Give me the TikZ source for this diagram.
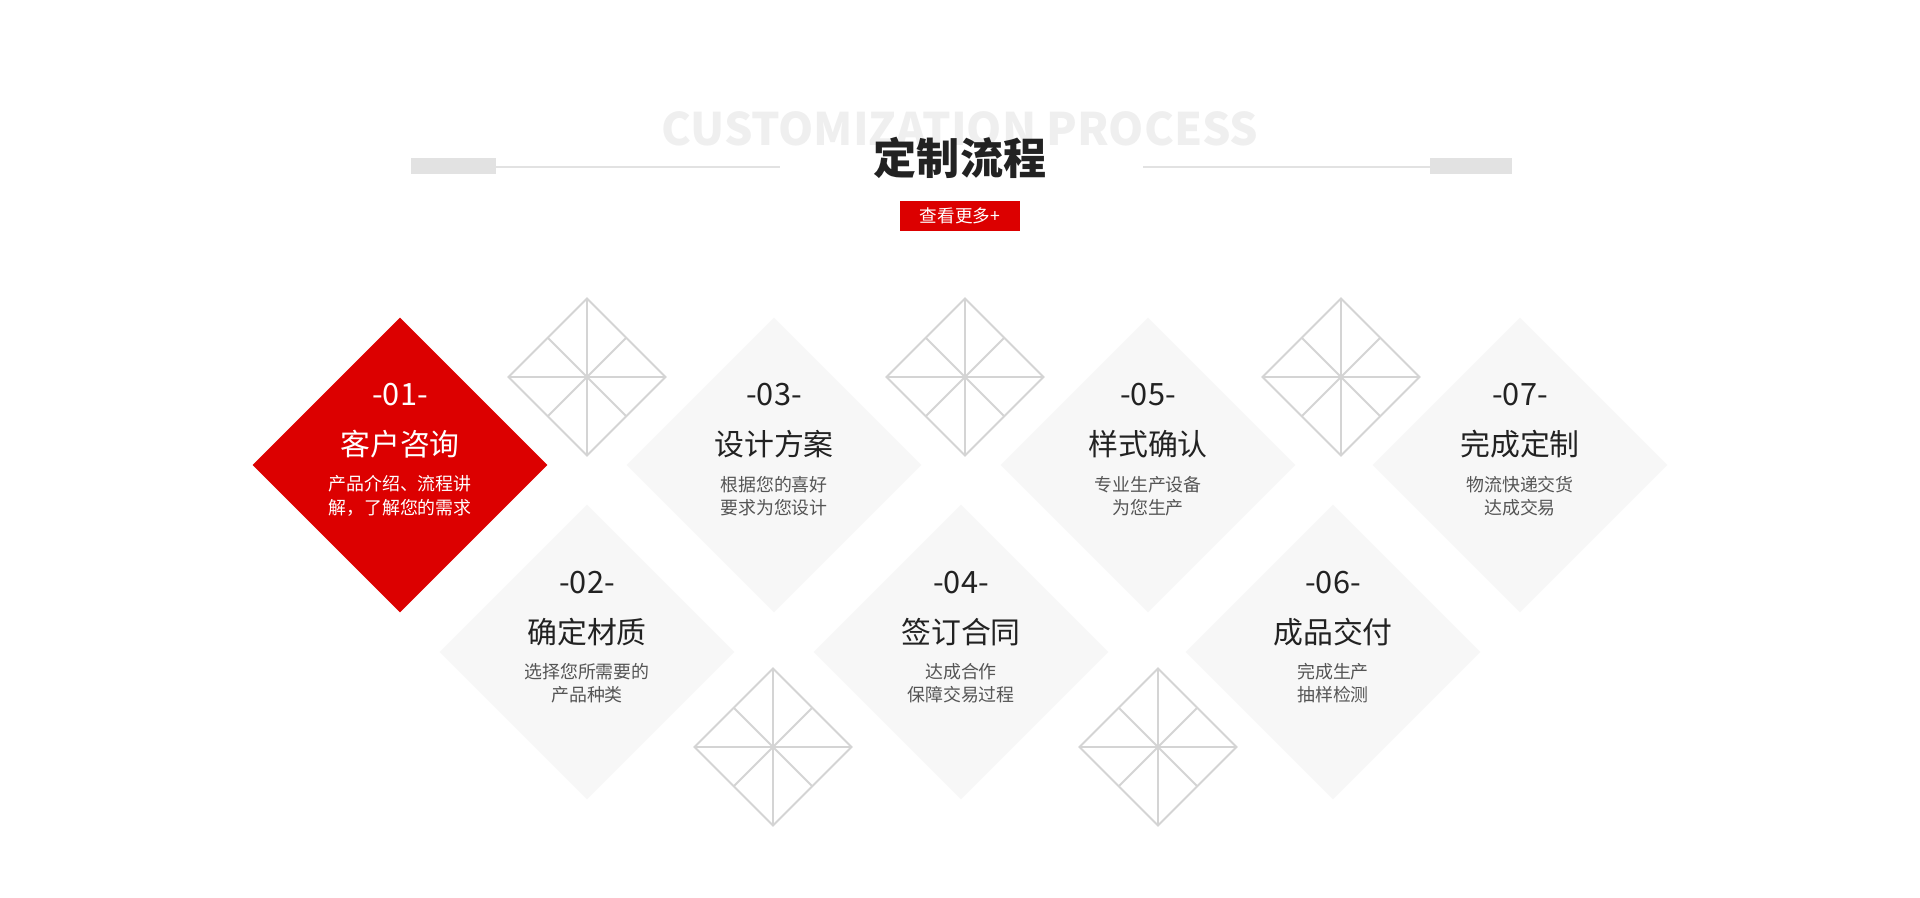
\documentclass[tikz,border=0pt]{standalone}
\usepackage{fontspec}
\setmainfont{Noto Sans CJK SC}
\usetikzlibrary{shapes.geometric}
\definecolor{rouge}{HTML}{DC0000}
\definecolor{noir}{HTML}{222222}
\definecolor{gris}{HTML}{555555}
\definecolor{grisclair}{HTML}{F7F7F7}
\definecolor{trait}{HTML}{D4D4D4}
\definecolor{barre}{HTML}{E2E2E2}
\definecolor{filigrane}{HTML}{EFEFEF}

\begin{document}
\begin{tikzpicture}[x=0.02cm,y=-0.02cm,
  carre/.style={diamond,fill=grisclair,inner sep=0pt,outer sep=0pt,minimum width=5.9cm,minimum height=5.9cm},
  motif/.style={diamond,draw=trait,line width=1.1pt,inner sep=0pt,outer sep=0pt,minimum width=3.14cm,minimum height=3.14cm},
  rayon/.style={draw=trait,line width=1.1pt},
  num/.style={font=\fontsize{17.5}{20}\selectfont,text=noir},
  tit/.style={font=\fontsize{17}{20}\selectfont,text=noir},
  sous/.style={font=\fontsize{10.2}{13.4}\selectfont,text=gris,align=center},
  blanc/.style={text=white}]
  \useasboundingbox (0,0) rectangle (1920,898);
  % En-tete
  \node[font=\bfseries\fontsize{25.5}{28}\selectfont,text=filigrane] (fil) at (960,129) {CUSTOMIZATION PROCESS};
  \fill[barre] (411,158) rectangle (496,174);
  \fill[barre] (1430,158) rectangle (1512,174);
  \draw[barre,line width=1.1pt] (496,167) -- (780,167);
  \draw[barre,line width=1.1pt] (1143,167) -- (1430,167);
  \node[font=\bfseries\fontsize{24.5}{26}\selectfont,text=noir] (titre) at (960,158) {定制流程};
  \node[fill=rouge,text=white,font=\fontsize{10}{11}\selectfont,minimum width=2.4cm,minimum height=0.62cm,inner sep=0pt] (plus) at (960,216) {查看更多+};
  % Losanges
  \node[carre,fill=rouge] (d1) at (400,465) {};
  \node[carre] (d3) at (774,465) {};
  \node[carre] (d5) at (1148,465) {};
  \node[carre] (d7) at (1520,465) {};
  \node[carre] (d2) at (587,652) {};
  \node[carre] (d4) at (961,652) {};
  \node[carre] (d6) at (1333,652) {};
  % Motifs
  \node[motif] (m1) at (587,377) {};
  \node[motif] (m2) at (965,377) {};
  \node[motif] (m3) at (1341,377) {};
  \node[motif] (m4) at (773,747) {};
  \node[motif] (m5) at (1158,747) {};
  \foreach \m in {m1,m2,m3,m4,m5}
    \draw[rayon] (\m.north) -- (\m.south) (\m.west) -- (\m.east)
      (\m.north west) -- (\m.south east) (\m.north east) -- (\m.south west);
  % Etape 01
  \node[num,blanc] (n1) at (400,395) {-01-};
  \node[tit,blanc] (t1) at (400,444) {客户咨询};
  \node[sous,blanc] (s1) at (400,496) {产品介绍、流程讲\\解，了解您的需求};
  % Etape 02
  \node[num] (n2) at (587,583) {-02-};
  \node[tit] (t2) at (587,632) {确定材质};
  \node[sous] (s2) at (587,683) {选择您所需要的\\产品种类};
  % Etape 03
  \node[num] (n3) at (774,395) {-03-};
  \node[tit] (t3) at (774,444) {设计方案};
  \node[sous] (s3) at (774,496) {根据您的喜好\\要求为您设计};
  % Etape 04
  \node[num] (n4) at (961,583) {-04-};
  \node[tit] (t4) at (961,632) {签订合同};
  \node[sous] (s4) at (961,683) {达成合作\\保障交易过程};
  % Etape 05
  \node[num] (n5) at (1148,395) {-05-};
  \node[tit] (t5) at (1148,444) {样式确认};
  \node[sous] (s5) at (1148,496) {专业生产设备\\为您生产};
  % Etape 06
  \node[num] (n6) at (1333,583) {-06-};
  \node[tit] (t6) at (1333,632) {成品交付};
  \node[sous] (s6) at (1333,683) {完成生产\\抽样检测};
  % Etape 07
  \node[num] (n7) at (1520,395) {-07-};
  \node[tit] (t7) at (1520,444) {完成定制};
  \node[sous] (s7) at (1520,496) {物流快递交货\\达成交易};
\end{tikzpicture}
\end{document}
